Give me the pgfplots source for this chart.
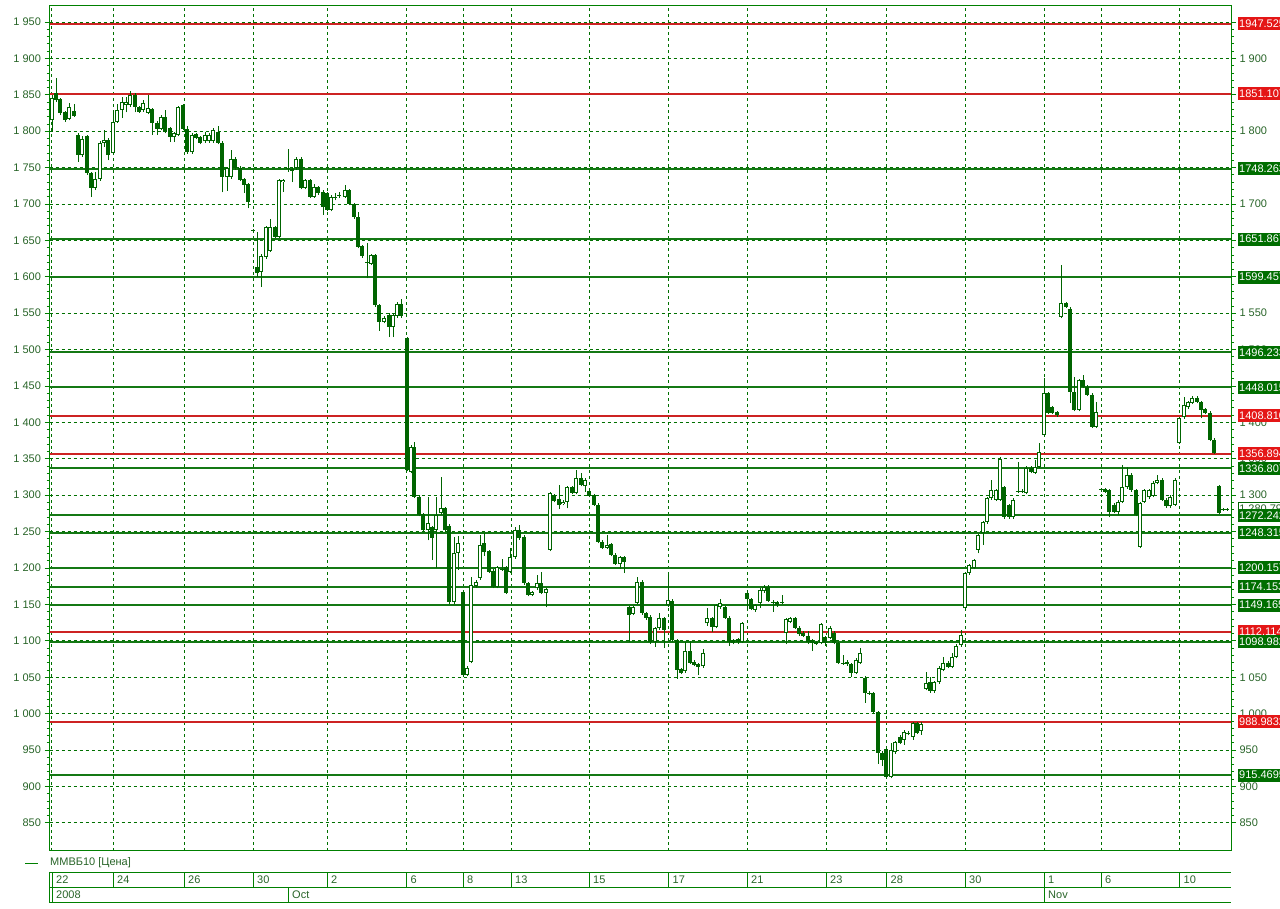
\documentclass[border=0pt]{standalone}
\usepackage{fontspec}
\setmainfont{Liberation Sans}
\usepackage{pgfplots}
\usepackage{pgfplotstable}
\pgfplotsset{compat=1.18}
\definecolor{frgreen}{RGB}{0,128,0}
\definecolor{grgreen}{RGB}{0,112,0}
\definecolor{cgreen}{RGB}{0,100,0}
\definecolor{lgreen}{RGB}{20,120,20}
\definecolor{lred}{RGB}{205,35,35}
\definecolor{bred}{RGB}{228,22,22}
\definecolor{bgreen}{RGB}{0,110,0}
\definecolor{tgreen}{RGB}{40,100,40}

\pgfplotstableread{
x o h l c
52 1815 1850 1799 1846
56 1852 1873 1840 1843
60 1844 1846 1822 1825
65 1826 1828 1813 1815
69 1817 1839 1815 1833
74 1828 1837 1820 1821
78 1795 1797 1758 1767
82 1767 1793 1765 1789
87 1793 1795 1740 1743
91 1743 1744 1710 1722
95 1722 1744 1719 1734
100 1734 1786 1732 1784
104 1784 1802 1778 1788
108 1788 1790 1760 1767
113 1770 1829 1768 1813
117 1813 1837 1811 1829
122 1829 1847 1818 1840
126 1836 1847 1826 1840
130 1836 1855 1833 1850
135 1850 1853 1826 1833
139 1833 1835 1825 1826
143 1829 1843 1827 1839
148 1825 1850 1823 1832
152 1830 1832 1795 1811
157 1811 1814 1795 1803
161 1803 1822 1801 1820
165 1820 1829 1797 1799
170 1804 1806 1785 1792
174 1792 1799 1785 1797
178 1795 1835 1793 1833
183 1836 1838 1801 1803
187 1803 1807 1769 1771
192 1771 1797 1769 1795
196 1796 1798 1789 1791
200 1792 1794 1782 1784
205 1786 1799 1784 1795
209 1786 1797 1784 1795
213 1786 1804 1784 1802
218 1799 1807 1782 1784
222 1784 1786 1716 1737
227 1737 1751 1718 1749
231 1737 1774 1735 1762
235 1762 1764 1747 1749
240 1749 1752 1731 1733
244 1734 1736 1715 1726
248 1727 1729 1694 1703
253 1664 1666 1662 1663
257 1614 1662 1600 1605
261 1607 1631 1586 1629
266 1627 1670 1625 1668
270 1636 1680 1634 1668
275 1668 1670 1653 1655
279 1655 1735 1653 1733
283 1730 1735 1717 1733
288 1748 1775 1744 1750
292 1746 1750 1730 1748
296 1749 1765 1747 1762
301 1762 1764 1720 1722
305 1722 1735 1720 1733
310 1733 1735 1708 1710
314 1710 1727 1708 1723
318 1723 1725 1713 1715
323 1716 1719 1685 1696
327 1715 1717 1690 1692
331 1692 1712 1690 1710
335 1709 1715 1705 1710
339 1712 1716 1708 1713
345 1710 1726 1708 1719
349 1719 1721 1698 1700
354 1700 1702 1680 1682
358 1682 1689 1639 1641
362 1642 1644 1626 1628
367 1620 1646 1598 1619
371 1618 1632 1616 1630
375 1630 1632 1559 1561
379 1561 1563 1526 1538
384 1538 1546 1536 1543
389 1548 1550 1517 1531
393 1531 1550 1517 1548
397 1546 1565 1544 1563
401 1563 1570 1544 1546
407 1516 1518 1333 1335
411 1332 1369 1330 1366
414 1366 1373 1296 1298
419 1298 1300 1271 1273
423 1274 1276 1250 1252
428 1252 1298 1238 1262
432 1256 1258 1211 1241
436 1252 1298 1200 1273
441 1275 1325 1273 1282
445 1282 1284 1250 1252
449 1258 1260 1150 1153
454 1153 1243 1151 1221
458 1221 1244 1197 1235
463 1167 1169 1051 1053
467 1053 1065 1051 1063
471 1071 1187 1069 1177
476 1175 1183 1173 1181
480 1186 1245 1184 1232
484 1234 1248 1217 1222
489 1223 1225 1193 1195
493 1196 1198 1172 1174
497 1174 1203 1172 1201
502 1198 1212 1196 1199
506 1201 1203 1164 1166
510 1195 1228 1193 1215
515 1215 1257 1213 1252
519 1252 1259 1239 1241
524 1243 1245 1177 1179
528 1179 1181 1161 1163
532 1163 1169 1161 1167
537 1172 1190 1170 1180
541 1179 1194 1164 1166
546 1166 1173 1146 1171
550 1225 1305 1223 1303
554 1300 1302 1290 1292
559 1295 1314 1281 1287
563 1288 1293 1286 1291
567 1291 1313 1282 1311
572 1311 1313 1301 1303
576 1303 1335 1301 1324
581 1324 1331 1312 1314
585 1312 1323 1305 1321
589 1306 1308 1297 1299
594 1300 1302 1285 1287
598 1287 1289 1234 1236
602 1236 1238 1226 1228
607 1228 1245 1226 1232
611 1233 1235 1216 1218
615 1218 1220 1204 1206
620 1206 1217 1199 1215
624 1215 1217 1193 1208
629 1146 1148 1098 1136
633 1137 1148 1135 1146
637 1152 1188 1150 1181
642 1181 1183 1136 1138
646 1138 1140 1129 1131
650 1133 1135 1096 1098
655 1098 1119 1092 1117
659 1117 1138 1115 1131
664 1131 1133 1090 1115
668 1149 1190 1147 1156
672 1155 1157 1099 1101
677 1101 1103 1048 1060
681 1061 1063 1054 1056
685 1058 1099 1056 1086
690 1086 1100 1068 1070
694 1071 1073 1065 1067
698 1068 1070 1053 1064
703 1065 1089 1063 1083
707 1124 1145 1121 1131
712 1131 1133 1112 1119
716 1119 1151 1117 1149
720 1146 1157 1144 1152
725 1146 1148 1130 1132
729 1132 1134 1093 1098
733 1101 1103 1095 1097
738 1102 1104 1096 1098
742 1099 1126 1097 1124
747 1166 1170 1143 1157
751 1157 1159 1142 1144
755 1142 1151 1140 1149
760 1152 1172 1145 1170
764 1168 1176 1166 1174
768 1174 1177 1153 1155
773 1154 1156 1140 1152
777 1153 1155 1147 1149
782 1152 1163 1150 1153
786 1111 1132 1095 1130
790 1126 1133 1124 1131
795 1131 1133 1116 1118
799 1118 1120 1107 1109
803 1111 1113 1105 1107
808 1107 1114 1096 1098
812 1101 1103 1086 1097
816 1098 1100 1094 1096
821 1097 1125 1095 1123
825 1105 1107 1093 1097
830 1104 1120 1102 1118
834 1111 1113 1095 1097
838 1097 1099 1068 1070
843 1070 1081 1067 1069
847 1071 1073 1066 1068
851 1068 1070 1050 1056
856 1056 1076 1054 1074
860 1070 1090 1068 1083
865 1049 1051 1015 1028
869 1029 1031 1026 1028
873 1028 1030 1000 1002
878 1002 1004 931 946
882 946 948 928 936
886 951 953 911 913
891 913 960 911 950
895 947 963 945 961
900 968 970 958 960
904 964 977 957 975
908 972 976 970 974
913 968 989 964 987
917 987 989 972 974
921 976 988 971 986
926 1034 1057 1032 1042
930 1043 1050 1029 1031
934 1031 1045 1029 1043
939 1043 1065 1041 1063
943 1060 1078 1058 1070
948 1070 1072 1062 1064
952 1064 1083 1062 1078
956 1078 1095 1076 1093
961 1094 1115 1092 1108
965 1145 1195 1143 1193
969 1193 1206 1191 1204
974 1200 1213 1198 1211
978 1225 1247 1220 1245
983 1248 1265 1232 1263
987 1263 1298 1261 1296
991 1296 1321 1294 1307
996 1294 1309 1292 1307
1000 1294 1352 1292 1350
1004 1311 1313 1268 1270
1009 1286 1288 1268 1270
1013 1270 1296 1268 1294
1018 1305 1346 1303 1306
1022 1306 1308 1303 1305
1026 1303 1340 1301 1338
1031 1338 1340 1330 1332
1035 1331 1349 1329 1339
1039 1339 1372 1337 1359
1044 1383 1461 1381 1440
1048 1440 1442 1411 1413
1052 1421 1423 1411 1413
1057 1414 1416 1408 1410
1061 1545 1616 1543 1564
1066 1564 1566 1557 1559
1070 1556 1558 1427 1442
1074 1442 1462 1415 1417
1079 1417 1460 1415 1458
1083 1458 1465 1447 1449
1087 1449 1451 1436 1438
1092 1438 1440 1392 1394
1096 1394 1428 1392 1414
1101 1307 1310 1305 1308
1105 1308 1310 1303 1305
1109 1307 1309 1270 1277
1114 1287 1289 1275 1277
1118 1277 1293 1273 1291
1122 1291 1342 1289 1311
1127 1311 1339 1309 1328
1131 1328 1330 1305 1307
1136 1307 1309 1271 1273
1140 1229 1291 1227 1289
1144 1291 1309 1289 1307
1149 1297 1309 1295 1307
1153 1299 1319 1297 1317
1157 1317 1328 1315 1321
1162 1321 1323 1292 1294
1166 1294 1296 1283 1285
1170 1285 1300 1283 1298
1175 1287 1323 1285 1321
1179 1372 1408 1370 1406
1184 1407 1435 1405 1424
1188 1421 1430 1419 1428
1192 1427 1436 1425 1434
1197 1434 1436 1426 1428
1201 1428 1430 1406 1417
1205 1418 1420 1411 1413
1210 1413 1415 1374 1376
1214 1376 1378 1356 1358
1219 1312 1314 1274 1276
1223 1281 1282 1279 1280
1227 1281 1282 1279 1280
}\candles

\pgfplotsset{
  base/.style={
    scale only axis, width=1181.5pt, height=845pt,
    at={(49.5pt,57pt)}, anchor=south west,
    xmin=49.5, xmax=1231, ymin=811.3, ymax=1971.98,
    ytick={850,900,950,1000,1050,1100,1150,1200,1250,1300,1350,1400,1450,1500,1550,1600,1650,1700,1750,1800,1850,1900,1950},
    yticklabels={850,900,950,1 000,1 050,1 100,1 150,1 200,1 250,1 300,1 350,1 400,1 450,1 500,1 550,1 600,1 650,1 700,1 750,1 800,1 850,1 900,1 950},
    minor y tick num=4,
    tick align=outside,
    major tick length=5pt, minor tick length=3pt,
    every tick/.append style={frgreen, line width=0.8pt},
    tick label style={font=\fontsize{11}{13}\selectfont, text=tgreen},
    axis line style={frgreen, line width=1pt},
  },
  lvl/.style={line width=2pt, forget plot},
}

\tikzset{
  rbox/.style={anchor=west, fill=bred, text=white, inner xsep=1.5pt, inner ysep=0pt, minimum height=13pt, font=\fontsize{11}{13}\selectfont},
  gbox/.style={rbox, fill=bgreen},
}

\begin{document}
\begin{tikzpicture}[x=1pt,y=1pt]
\begin{axis}[base,
  ytick pos=left,
  xtick={51,113,184,253,327,406.5,463,511,589,668.5,747,826,886.5,965,1044,1101,1179.5},
  xticklabels={},
  xtick style={draw=none},
  grid=major,
  major grid style={grgreen, line width=0.8pt, dash pattern=on 3pt off 3pt},
]
\addplot[lvl, lred] coordinates {(49.5,1947.525) (1231,1947.525)};
\addplot[lvl, lred] coordinates {(49.5,1851.107) (1231,1851.107)};
\addplot[lvl, lgreen] coordinates {(49.5,1748.263) (1231,1748.263)};
\addplot[lvl, lgreen] coordinates {(49.5,1651.867) (1231,1651.867)};
\addplot[lvl, lgreen] coordinates {(49.5,1599.457) (1231,1599.457)};
\addplot[lvl, lgreen] coordinates {(49.5,1496.233) (1231,1496.233)};
\addplot[lvl, lgreen] coordinates {(49.5,1448.015) (1231,1448.015)};
\addplot[lvl, lred] coordinates {(49.5,1408.810) (1231,1408.810)};
\addplot[lvl, lred] coordinates {(49.5,1356.894) (1231,1356.894)};
\addplot[lvl, lgreen] coordinates {(49.5,1336.807) (1231,1336.807)};
\addplot[lvl, lgreen] coordinates {(49.5,1272.242) (1231,1272.242)};
\addplot[lvl, lgreen] coordinates {(49.5,1248.315) (1231,1248.315)};
\addplot[lvl, lgreen] coordinates {(49.5,1200.157) (1231,1200.157)};
\addplot[lvl, lgreen] coordinates {(49.5,1174.153) (1231,1174.153)};
\addplot[lvl, lgreen] coordinates {(49.5,1149.165) (1231,1149.165)};
\addplot[lvl, lred] coordinates {(49.5,1112.114) (1231,1112.114)};
\addplot[lvl, lgreen] coordinates {(49.5,1098.982) (1231,1098.982)};
\addplot[lvl, lred] coordinates {(49.5,988.983) (1231,988.983)};
\addplot[lvl, lgreen] coordinates {(49.5,915.4695) (1231,915.4695)};
% wicks
\addplot[cgreen, line width=1pt, quiver={u=0, v={\thisrow{h}-\thisrow{l}}}] table[x=x, y=l] {\candles};
% bodies
\addplot[cgreen, line width=3.6pt, quiver={u=0, v={\thisrow{c}-\thisrow{o}}}] table[x=x, y=o] {\candles};
% hollow interiors for rising candles
\addplot[white, line width=1.6pt, quiver={u=0, v={max(\thisrow{c}-\thisrow{o}-2.8,0)}}] table[x=x, y expr=\thisrow{o}+1.4] {\candles};
\end{axis}

\begin{axis}[base, axis x line=none, axis y line*=right, yticklabel pos=right]
\addplot[draw=none] coordinates {(100,1000)};
\coordinate (cur) at (axis cs:1237.5,1280.79);
\coordinate (a1) at (axis cs:1237.5,1947.525);
\coordinate (a2) at (axis cs:1237.5,1851.107);
\coordinate (a3) at (axis cs:1237.5,1748.263);
\coordinate (a4) at (axis cs:1237.5,1651.867);
\coordinate (a5) at (axis cs:1237.5,1599.457);
\coordinate (a6) at (axis cs:1237.5,1496.233);
\coordinate (a7) at (axis cs:1237.5,1448.015);
\coordinate (a8) at (axis cs:1237.5,1408.810);
\coordinate (a9) at (axis cs:1237.5,1356.894);
\coordinate (a10) at (axis cs:1237.5,1336.807);
\coordinate (a11) at (axis cs:1237.5,1272.242);
\coordinate (a12) at (axis cs:1237.5,1248.315);
\coordinate (a13) at (axis cs:1237.5,1200.157);
\coordinate (a14) at (axis cs:1237.5,1174.153);
\coordinate (a15) at (axis cs:1237.5,1149.165);
\coordinate (a16) at (axis cs:1237.5,1112.114);
\coordinate (a17) at (axis cs:1237.5,1098.982);
\coordinate (a18) at (axis cs:1237.5,988.983);
\coordinate (a19) at (axis cs:1237.5,915.4695);
\end{axis}

\node[rbox, fill=white, draw=cgreen, line width=0.6pt, text=tgreen] at (cur) {1 280.79};
\node[rbox] at (a1) {1947.525};
\node[rbox] at (a2) {1851.107};
\node[gbox] at (a3) {1748.263};
\node[gbox] at (a4) {1651.867};
\node[gbox] at (a5) {1599.457};
\node[gbox] at (a6) {1496.233};
\node[gbox] at (a7) {1448.015};
\node[rbox] at (a8) {1408.810};
\node[rbox] at (a9) {1356.894};
\node[gbox] at (a10) {1336.807};
\node[gbox] at (a11) {1272.242};
\node[gbox] at (a12) {1248.315};
\node[gbox] at (a13) {1200.157};
\node[gbox] at (a14) {1174.153};
\node[gbox] at (a15) {1149.165};
\node[rbox] at (a16) {1112.114};
\node[gbox] at (a17) {1098.982};
\node[rbox] at (a18) {988.9832};
\node[gbox] at (a19) {915.4695};

% legend
\draw[frgreen, line width=0.8pt] (25,45) -- (38,45);
\node[anchor=west, text=tgreen, font=\fontsize{11}{13}\selectfont, inner sep=0pt] at (50,45) {ММВБ10 [Цена]};
% date strip
\begin{scope}[frgreen, line width=0.9pt]
\draw (49.3,35.7) -- (1231,35.7);
\draw (49.3,20.7) -- (1231,20.7);
\draw (49.3,5.7) -- (1231,5.7);
\draw (49.3,35.7) -- (49.3,5.7);
\draw (52.3,35.7) -- (52.3,5.7);
\foreach \s in {113,184,253,327,406.5,463,511,589,668.5,747,826,886.5,965,1044,1101,1179.5}
  \draw (\s,35.7) -- (\s,20.7);
\draw (288.3,20.7) -- (288.3,5.7);
\draw (1044,20.7) -- (1044,5.7);
\end{scope}
\begin{scope}[every node/.style={anchor=west, text=tgreen, font=\fontsize{11}{13}\selectfont, inner sep=0pt}]
\node at (56,28) {22};
\node at (117,28) {24};
\node at (188,28) {26};
\node at (257,28) {30};
\node at (331,28) {2};
\node at (410.5,28) {6};
\node at (467,28) {8};
\node at (515,28) {13};
\node at (593,28) {15};
\node at (672.5,28) {17};
\node at (751,28) {21};
\node at (830,28) {23};
\node at (890.5,28) {28};
\node at (969,28) {30};
\node at (1048,28) {1};
\node at (1105,28) {6};
\node at (1183.5,28) {10};
\node at (56,13.5) {2008};
\node at (292,13.5) {Oct};
\node at (1048,13.5) {Nov};
\end{scope}
\pgfresetboundingbox
\useasboundingbox (0,0) rectangle (1280,908);
\end{tikzpicture}
\end{document}
